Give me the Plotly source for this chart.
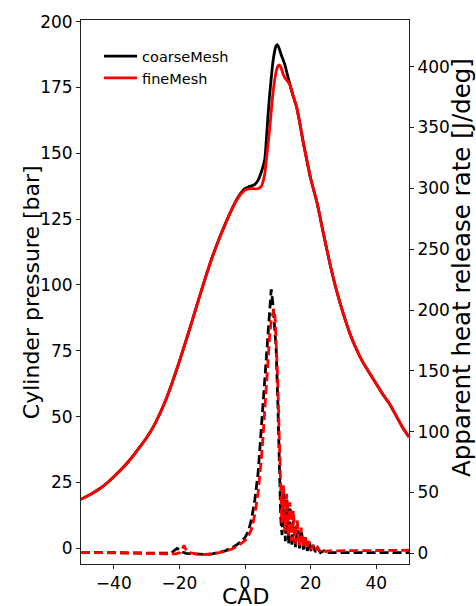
import plotly.graph_objects as go

# Cylinder pressure [bar] vs crank angle
cad_p_fine = [-50, -48, -46, -44, -42, -40, -38, -36, -34, -32, -30, -28, -26, -24,
              -22, -20, -18, -16, -14, -12, -10, -8, -6, -4, -2, 0, 1, 2, 3, 4, 5,
              6, 6.5, 7, 7.5, 8, 8.5, 9, 9.5, 10, 10.5, 11, 11.5, 12, 12.6, 13.6,
              14.5, 15.7, 16.7, 17.7, 19, 20, 22, 24, 26, 28, 30, 32, 34, 36, 38,
              40, 42, 44, 46, 48, 50]
p_fine = [18.6, 19.9, 21.3, 22.9, 24.9, 27.2, 29.6, 32.3, 35.3, 38.6, 42.0, 46.0,
          51.0, 56.8, 63.6, 71.0, 78.8, 86.8, 95.0, 103.0, 110.5, 117.2, 123.2,
          128.7, 133.3, 136.0, 136.5, 136.6, 136.5, 136.6, 137.5, 142.0, 147.5,
          153.0, 159.0, 166.0, 172.5, 177.5, 181.0, 183.0, 183.5, 182.5, 180.5,
          179.0, 177.9, 176.2, 172.5, 167.7, 161.5, 154.5, 146.5, 140.5, 131.0,
          119.0, 107.5, 97.5, 89.0, 81.5, 75.5, 70.5, 66.5, 62.5, 58.5, 55.0,
          50.5, 46.0, 42.3]

cad_p_coarse = [-50, -48, -46, -44, -42, -40, -38, -36, -34, -32, -30, -28, -26, -24,
                -22, -20, -18, -16, -14, -12, -10, -8, -6, -4, -2, 0, 1, 2, 3, 4, 5,
                6, 6.5, 7, 7.5, 8, 8.5, 9, 9.5, 9.9, 10.5, 11, 12, 13, 13.6, 14.5,
                15.7, 16.7, 17.7, 19, 20, 22, 24, 26, 28, 30, 32, 34, 36, 38, 40,
                42, 44, 46, 48, 50]
p_coarse = [18.6, 19.9, 21.3, 22.9, 24.9, 27.2, 29.6, 32.3, 35.3, 38.6, 42.0, 46.0,
            51.0, 56.8, 63.6, 71.0, 78.8, 86.8, 95.0, 103.0, 110.5, 117.2, 123.2,
            128.8, 133.6, 136.6, 137.2, 137.6, 138.2, 139.8, 143.0, 147.5, 155.0,
            164.0, 172.0, 178.5, 184.5, 188.5, 190.8, 191.2, 189.5, 187.5, 184.2,
            179.5, 176.6, 172.5, 167.7, 161.5, 154.5, 146.5, 140.5, 131.0, 119.0,
            107.5, 97.5, 89.0, 81.5, 75.5, 70.5, 66.5, 62.5, 58.5, 55.0, 50.5,
            46.0, 42.3]

# Apparent heat release rate [J/deg] vs crank angle
cad_q_coarse = [-50, -40, -30, -24, -22.5, -21.5, -20.7, -20, -19, -18, -16, -14,
                -12, -10, -8, -6, -4, -2, 0, 1, 2, 3, 4, 4.5, 5, 5.5, 6, 6.5, 7,
                7.5, 8, 8.5, 9, 9.5, 10, 10.5, 10.9, 11.3, 11.8, 12.3, 12.8, 13.3,
                13.8, 14.3, 14.8, 15.4, 16, 16.6, 17.2, 17.8, 18.4, 19, 19.6, 20.2,
                20.8, 21.5, 22.2, 23, 24, 25, 27, 30, 35, 40, 45, 50]
q_coarse = [0.8, 0.5, 0.0, -0.5, 0.0, 2.5, 4.0, 3.0, 1.0, 0.0, -0.5, -1.0, -1.0,
            -0.5, 0.5, 2.0, 4.5, 8.0, 13.0, 18.0, 28.0, 44.0, 66.0, 85.0, 105.0,
            126.0, 147.0, 167.0, 186.0, 205.0, 217.0, 205.0, 188.0, 168.0, 125.0,
            70.0, 29.0, 15.0, 50.0, 10.0, 44.0, 8.0, 38.0, 6.0, 31.0, 5.0, 25.0,
            4.0, 19.0, 3.0, 13.0, 2.0, 9.0, 1.5, 6.0, 1.0, 4.0, 0.5, 2.0, 0.5,
            0.5, 0.5, 0.5, 0.5, 0.5, 0.5]

cad_q_fine = [-50, -40, -30, -24, -21, -19.8, -19.2, -18.6, -18, -17, -15, -12, -10,
              -8, -6, -4, -2, 0, 1, 2, 3, 4, 4.5, 5, 5.5, 6, 6.5, 7, 7.5, 8, 8.5,
              8.85, 9.2, 9.6, 10, 10.4, 10.8, 11.2, 11.7, 12.2, 12.7, 13.2, 13.7,
              14.2, 14.7, 15.3, 15.9, 16.5, 17.1, 17.7, 18.3, 18.9, 19.5, 20.1,
              20.7, 21.4, 22.1, 22.8, 23.6, 24.5, 25.5, 27, 30, 35, 40, 45, 50]
q_fine = [0.8, 0.5, 0.0, -0.5, -0.5, 0.5, 4.0, 6.5, 3.0, 0.5, -0.5, -1.0, -0.5,
          0.3, 1.5, 3.5, 6.5, 10.5, 14.0, 20.0, 32.0, 50.0, 62.0, 78.0, 96.0,
          117.0, 138.0, 160.0, 178.0, 192.0, 199.0, 201.0, 192.0, 170.0, 140.0,
          100.0, 55.0, 25.0, 56.0, 18.0, 49.0, 14.0, 42.0, 10.0, 35.0, 8.0, 27.0,
          6.0, 21.0, 5.0, 15.0, 4.0, 10.0, 3.0, 7.0, 2.5, 5.0, 2.0, 3.5, 1.5,
          2.0, 2.0, 2.5, 2.5, 2.5, 2.5, 2.5]

FONT = "DejaVu Sans"
LW = 2.8
DASH = "9px,4px"

fig = go.Figure()
fig.add_trace(go.Scatter(x=cad_p_coarse, y=p_coarse, mode="lines", name="coarseMesh",
                         line=dict(color="black", width=LW, shape="spline", smoothing=0.6)))
fig.add_trace(go.Scatter(x=cad_p_fine, y=p_fine, mode="lines", name="fineMesh",
                         line=dict(color="red", width=LW, shape="spline", smoothing=0.6)))
fig.add_trace(go.Scatter(x=cad_q_coarse, y=q_coarse, mode="lines", yaxis="y2",
                         showlegend=False,
                         line=dict(color="black", width=LW, dash=DASH)))
fig.add_trace(go.Scatter(x=cad_q_fine, y=q_fine, mode="lines", yaxis="y2",
                         showlegend=False,
                         line=dict(color="red", width=LW, dash=DASH)))

axis_common = dict(showgrid=False, zeroline=False, showline=True, linecolor="#222",
                   linewidth=1, ticks="outside", ticklen=4, tickwidth=1,
                   tickcolor="#222", automargin=False,
                   tickfont=dict(family=FONT, size=17, color="black"))


def axis_label(text, x, y, size, angle=0):
    return dict(text=text, textangle=angle, xref="paper", yref="paper", x=x, y=y,
                xanchor="center", yanchor="middle", showarrow=False,
                font=dict(family=FONT, size=size, color="black"))


fig.update_layout(
    width=476, height=606,
    margin=dict(l=81, r=67, t=20, b=42),
    paper_bgcolor="white", plot_bgcolor="white",
    font=dict(family=FONT, color="black"),
    xaxis=dict(range=[-50, 50], tickvals=[-40, -20, 0, 20, 40],
               ticktext=["\u221240", "\u221220", "0", "20", "40"], mirror=True,
               **axis_common),
    yaxis=dict(range=[-5.96, 200.6], tickvals=[0, 25, 50, 75, 100, 125, 150, 175, 200],
               **axis_common),
    yaxis2=dict(range=[-8.8, 438.4], tickvals=[0, 50, 100, 150, 200, 250, 300, 350, 400],
                overlaying="y", side="right", anchor="x", **axis_common),
    legend=dict(x=0.055, y=0.963, xanchor="left", yanchor="top", itemwidth=33,
                bgcolor="rgba(0,0,0,0)", font=dict(family=FONT, size=14.5),
                tracegroupgap=0),
    annotations=[
        axis_label("CAD", 0.5, -0.0595, 22),
        axis_label("Cylinder pressure [bar]", -0.152, 0.5, 22, -90),
        axis_label("Apparent heat release rate [J/deg]", 1.1615, 0.546, 24.5, -90),
    ],
)

fig.write_html("out.html")
